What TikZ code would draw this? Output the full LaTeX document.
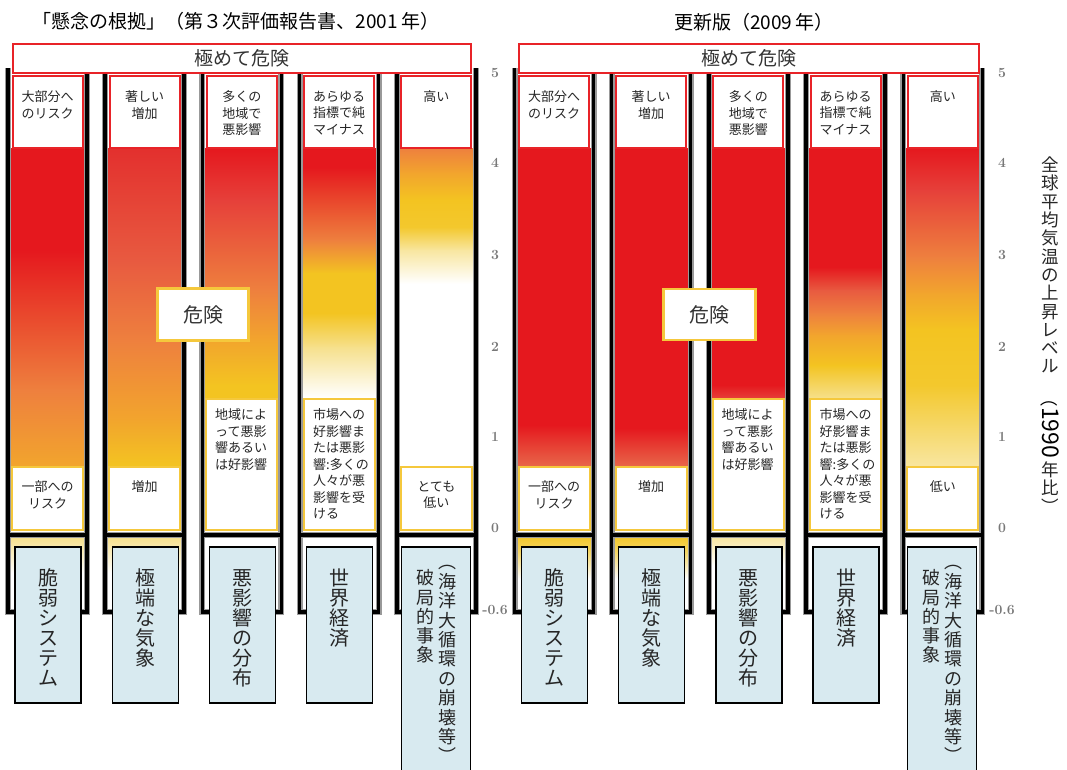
\documentclass[tikz,border=0pt]{standalone}
\usepackage{fontspec}
\newfontfamily\jp{Noto Sans CJK JP}
\definecolor{rd}{RGB}{229,24,30}
\definecolor{rdb}{RGB}{227,48,46}
\definecolor{rdc}{RGB}{230,64,58}
\definecolor{rdo}{RGB}{232,90,64}
\definecolor{rdp}{RGB}{232,103,74}
\definecolor{org}{RGB}{238,128,62}
\definecolor{yorg}{RGB}{242,165,45}
\definecolor{yel}{RGB}{243,196,33}
\definecolor{yelb}{RGB}{243,200,45}
\definecolor{yelc}{RGB}{245,215,102}
\definecolor{lyel}{RGB}{246,224,140}
\definecolor{pyel}{RGB}{248,230,160}
\definecolor{redline}{RGB}{232,35,40}
\definecolor{yelline}{RGB}{245,200,60}
\definecolor{lblue}{RGB}{216,234,240}
\definecolor{axisgray}{RGB}{120,120,120}
\tikzset{
  topbox/.style={draw=redline, line width=2pt, fill=white},
  lowbox/.style={draw=yelline, line width=2pt, fill=white},
  bigbox/.style={draw=redline, line width=2pt, fill=white},
  dangerbox/.style={draw=yelline, line width=2.5pt, fill=white},
  bluebox/.style={draw=black, line width=1.3pt, fill=lblue},
  fshadow/.style={draw=black!40, line width=6pt},
  fbar/.style={draw=black, line width=3.5pt},
  lbl/.style={font=\jp\fontsize{13}{16.5}\selectfont, inner sep=0pt, align=center, anchor=north, text=black!85},
  lbll/.style={font=\jp\fontsize{13}{16.5}\selectfont, inner sep=0pt, align=left, anchor=north west, text=black!85},
  vch/.style={font=\jp\fontsize{#1}{#1}\selectfont, inner sep=0pt, anchor=base, text=black!85},
  axnum/.style={font=\fontsize{14}{14}\selectfont\bfseries, text=axisgray, inner sep=0pt},
  ttl/.style={font=\jp\fontsize{19}{19}\selectfont, inner sep=0pt},
  hdr/.style={font=\jp\fontsize{19}{19}\selectfont, inner sep=0pt, text=black!80},
}
% shaded segment of a column: centre, y1, y2, colour at y1, colour at y2
\newcommand\seg[5]{\shade[top color=#4,bottom color=#5] (#1-37.75,#2) rectangle (#1+37.75,#3+0.7);}
% column frame
\newcommand\colframe[2]{\draw[#2,line cap=butt] (#1-39.5,68) -- (#1-39.5,612) -- (#1+39.5,612) -- (#1+39.5,68) (#1-39.5,535) -- (#1+39.5,535);}
% vertical text: x, first centre y, pitch, size, name, list
\newcommand\vtext[6]{\foreach \ch [count=\i] in {#6} {\node[vch=#4] (#5\i) at (#1,#2+\i*#3-#3+0.38*#4) {\ch};}}
\begin{document}
\begin{tikzpicture}[x=1pt,y=-1pt]
\useasboundingbox (0,0) rectangle (1067,769);
\fill[white] (0,0) rectangle (1067,769);

% ---------------- fills, left group (2001) ----------------
% col1
\seg{47.5}{148}{250}{rd}{rd}
\seg{47.5}{250}{390}{rd}{org}
\seg{47.5}{390}{466}{org}{yorg}
% col2
\seg{144.7}{148}{260}{rdb}{rdo}
\seg{144.7}{260}{340}{rdo}{org}
\seg{144.7}{340}{420}{org}{yorg}
\seg{144.7}{420}{466}{yorg}{yel}
% col3
\seg{241.9}{148}{200}{rd}{rdc}
\seg{241.9}{200}{290}{rdc}{org}
\seg{241.9}{290}{340}{org}{yorg}
\seg{241.9}{340}{385}{yorg}{yel}
\seg{241.9}{385}{398}{yel}{yel}
% col4
\seg{339.1}{148}{167}{rd}{rd}
\seg{339.1}{167}{240}{rd}{org}
\seg{339.1}{240}{273}{org}{yel}
\seg{339.1}{273}{313}{yel}{yel}
\seg{339.1}{313}{347}{yel}{lyel}
\seg{339.1}{347}{397}{lyel}{white}
% col5
\seg{436.3}{148}{173}{org}{yorg}
\seg{436.3}{173}{200}{yorg}{yel}
\seg{436.3}{200}{227}{yel}{yelb}
\seg{436.3}{227}{250}{yelb}{pyel}
\seg{436.3}{250}{283}{pyel}{white}
% below zero
\seg{47.5}{537}{572}{lyel}{white}
\seg{144.7}{537}{572}{lyel}{white}

% ---------------- fills, right group (2009) ----------------
% col1
\seg{554}{148}{425}{rd}{rd}
\seg{554}{425}{466}{rd}{rdp}
% col2
\seg{651.2}{148}{428}{rd}{rd}
\seg{651.2}{428}{466}{rd}{rdp}
% col3
\seg{748.4}{148}{385}{rd}{rd}
\seg{748.4}{385}{398}{rd}{rdc}
% col4
\seg{845.6}{148}{267}{rd}{rd}
\seg{845.6}{267}{290}{rd}{rdo}
\seg{845.6}{290}{313}{rdo}{org}
\seg{845.6}{313}{335}{org}{yorg}
\seg{845.6}{335}{365}{yorg}{yel}
\seg{845.6}{365}{398}{yel}{lyel}
% col5
\seg{942.8}{148}{190}{rd}{rdc}
\seg{942.8}{190}{257}{rdc}{org}
\seg{942.8}{257}{293}{org}{yorg}
\seg{942.8}{293}{330}{yorg}{yel}
\seg{942.8}{330}{385}{yel}{yelb}
\seg{942.8}{385}{466}{yelb}{pyel}
% below zero
\seg{554}{537}{552}{yelb}{yelc}
\seg{554}{552}{578}{yelc}{white}
\seg{651.2}{537}{552}{yelb}{yelc}
\seg{651.2}{552}{578}{yelc}{white}
\seg{748.4}{537}{565}{pyel}{white}

% ---------------- frames ----------------
\foreach \c in {47.5,144.7,241.9,339.1,436.3,554,651.2,748.4,845.6,942.8} {\colframe{\c}{fshadow}}
\foreach \c in {47.5,144.7,241.9,339.1,436.3,554,651.2,748.4,845.6,942.8} {\colframe{\c}{fbar}}

% ---------------- top boxes and lower boxes ----------------
\foreach \c in {47.5,144.7,241.9,339.1,436.3,554,651.2,748.4,845.6,942.8} {\draw[topbox] (\c-35,76) rectangle (\c+35,147.5);}
\foreach \c in {47.5,144.7,436.3,554,651.2,942.8} {\draw[lowbox] (\c-35.5,467) rectangle (\c+35.5,530);}
\foreach \c in {241.9,339.1,748.4,845.6} {\draw[lowbox] (\c-35.5,399) rectangle (\c+35.5,530);}

% big header boxes
\draw[bigbox] (13,44) rectangle (471,73);
\draw[bigbox] (519,44) rectangle (979,73);
\node[hdr] (hdrL) at (242,58.5) {極めて危険};
\node[hdr] (hdrR) at (749,58.5) {極めて危険};

% danger boxes
\draw[dangerbox] (157.5,288.5) rectangle (248.5,340.5);
\draw[dangerbox] (663.5,289) rectangle (755.5,340);
\node[font=\jp\fontsize{20}{20}\selectfont, inner sep=0pt, text=black!80] (dL) at (203,314.5) {危険};
\node[font=\jp\fontsize{20}{20}\selectfont, inner sep=0pt, text=black!80] (dR) at (709.5,314.5) {危険};

% ---------------- top labels ----------------
\node[lbl] (tL1) at (47.5,90.5) {大部分へ\\のリスク};
\node[lbl] (tL2) at (144.7,90.5) {著しい\\増加};
\node[lbl] (tL3) at (241.9,90.5) {多くの\\地域で\\悪影響};
\node[lbl] (tL4) at (339.1,90.5) {あらゆる\\指標で純\\マイナス};
\node[lbl] (tL5) at (436.3,90.5) {高い};
\node[lbl] (tR1) at (554,90.5) {大部分へ\\のリスク};
\node[lbl] (tR2) at (651.2,90.5) {著しい\\増加};
\node[lbl] (tR3) at (748.4,90.5) {多くの\\地域で\\悪影響};
\node[lbl] (tR4) at (845.6,90.5) {あらゆる\\指標で純\\マイナス};
\node[lbl] (tR5) at (942.8,90.5) {高い};

% ---------------- lower labels ----------------
\node[lbl] (bL1) at (47.5,480.5) {一部への\\リスク};
\node[lbl] (bL2) at (144.7,480.5) {増加};
\node[lbll] (bL3) at (215,408.5) {地域によ\\って悪影\\響あるい\\は好影響};
\node[lbll] (bL4) at (313,408.5) {市場への\\好影響ま\\たは悪影\\響:多くの\\人々が悪\\影響を受\\ける};
\node[lbl] (bL5) at (436.3,480.5) {とても\\低い};
\node[lbl] (bR1) at (554,480.5) {一部への\\リスク};
\node[lbl] (bR2) at (651.2,480.5) {増加};
\node[lbll] (bR3) at (721.5,408.5) {地域によ\\って悪影\\響あるい\\は好影響};
\node[lbll] (bR4) at (819.5,408.5) {市場への\\好影響ま\\たは悪影\\響:多くの\\人々が悪\\影響を受\\ける};
\node[lbl] (bR5) at (942.8,480.5) {低い};

% ---------------- blue boxes ----------------
\foreach \c in {47.5,144.7,241.9,339.1,554,651.2,748.4,845.6} {\draw[bluebox] (\c-32.5,547) rectangle (\c+33.5,703);}
\foreach \c in {436.3,942.8} {\draw[bluebox] (\c-35,547) rectangle (\c+34,775);}

\vtext{48}{578}{20}{20}{sL1}{脆,弱,シ,ス,テ,ム}
\vtext{145.2}{578}{20}{20}{sL2}{極,端,な,気,象}
\vtext{242.4}{578}{20}{20}{sL3}{悪,影,響,の,分,布}
\vtext{339.6}{578}{20}{20}{sL4}{世,界,経,済}
\vtext{447}{562}{19.4}{18}{sL5a}{︵,海,洋,大,循,環,の,崩,壊,等,︶}
\vtext{425}{578}{19.2}{18}{sL5b}{破,局,的,事,象}
\vtext{554.5}{578}{20}{20}{sR1}{脆,弱,シ,ス,テ,ム}
\vtext{651.7}{578}{20}{20}{sR2}{極,端,な,気,象}
\vtext{748.9}{578}{20}{20}{sR3}{悪,影,響,の,分,布}
\vtext{846.1}{578}{20}{20}{sR4}{世,界,経,済}
\vtext{953.5}{562}{19.4}{18}{sR5a}{︵,海,洋,大,循,環,の,崩,壊,等,︶}
\vtext{931.5}{578}{19.2}{18}{sR5b}{破,局,的,事,象}

% ---------------- axis numbers ----------------
\foreach \v/\y [count=\k] in {5/73,4/163,3/255,2/347,1/437,0/528,-0.6/610} {
  \node[axnum] (axL\k) at (495,\y) {\v};
  \node[axnum] (axR\k) at (1002,\y) {\v};
}

% ---------------- titles ----------------
\node[ttl] (titleL) at (236,21) {「懸念の根拠」（第３次評価報告書、2001\,年）};
\node[ttl] (titleR) at (754,22) {更新版（2009\,年）};

% ---------------- vertical axis label ----------------
\vtext{1050}{165}{18.3}{17.5}{ax}{全,球,平,均,気,温,の,上,昇,レ,ベ,ル}
\node[font=\jp\fontsize{17.5}{17.5}\selectfont, inner sep=0pt, rotate=-90] (ax1990) at (1050,424) {（{\fontsize{23}{23}\selectfont 1990}};
\vtext{1050}{470}{18.3}{17.5}{axb}{年,比,︶}
\end{tikzpicture}
\end{document}
